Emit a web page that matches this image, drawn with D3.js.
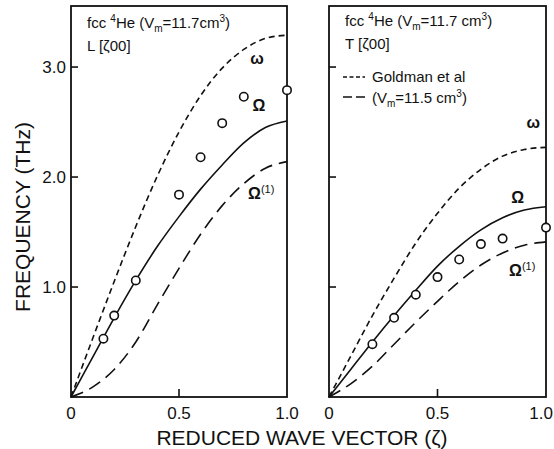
<!DOCTYPE html>
<html>
<head>
<meta charset="utf-8">
<script src="https://cdn.jsdelivr.net/npm/d3@7"></script>
<style>
  body { margin: 0; background: #fff; }
  text { font-family: "Liberation Sans", Arial, sans-serif; fill: #111; }
</style>
</head>
<body>
<div id="chart"></div>
<script>

// reduced wave vector grid for the curves
var zeta = [0, 0.1, 0.2, 0.3, 0.4, 0.5, 0.6, 0.7, 0.8, 0.9, 1.0];

// L [z00] panel
var L_omega  = [0, 0.53, 1.05, 1.55, 2.01, 2.41, 2.74, 2.99, 3.16, 3.26, 3.29];
var L_Omega  = [0, 0.36, 0.72, 1.06, 1.37, 1.64, 1.89, 2.11, 2.31, 2.45, 2.51];
var L_Omega1 = [0, 0.09, 0.25, 0.50, 0.84, 1.17, 1.48, 1.74, 1.94, 2.08, 2.14];
var L_pts_x  = [0.15, 0.2, 0.3, 0.5, 0.6, 0.7, 0.8, 1.0];
var L_pts_y  = [0.53, 0.74, 1.06, 1.84, 2.18, 2.49, 2.73, 2.79];

// T [z00] panel
var T_omega  = [0, 0.37, 0.74, 1.08, 1.40, 1.67, 1.90, 2.07, 2.19, 2.25, 2.27];
var T_Omega  = [0, 0.25, 0.50, 0.74, 0.97, 1.19, 1.37, 1.52, 1.63, 1.70, 1.73];
var T_Omega1 = [0, 0.12, 0.28, 0.48, 0.68, 0.87, 1.05, 1.20, 1.31, 1.38, 1.41];
var T_pts_x  = [0.2, 0.3, 0.4, 0.5, 0.6, 0.7, 0.8, 1.0];
var T_pts_y  = [0.48, 0.72, 0.93, 1.09, 1.25, 1.39, 1.44, 1.54];

var y_ticks = [1, 2, 3];
var y_tick_labels = ["1.0", "2.0", "3.0"];
var x_ticks = [0, 0.5, 1.0];
var x_tick_labels = ["0", "0.5", "1.0"];

var short_dash = "6,4";
var long_dash = "13,7";

var svg = d3.select('#chart').append('svg')
  .attr('width', 554)
  .attr('height', 449);

var y = d3.scaleLinear().domain([0, 3.555]).range([397, 6]);

function draw_panel(left, right, series, pts_x, pts_y, labels, last_anchor){

  var x = d3.scaleLinear().domain([0, 1]).range([left, right]);
  var g = svg.append('g');

  var line = d3.line()
    .x(function(d, i){ return x(zeta[i]); })
    .y(function(d){ return y(d); })
    .curve(d3.curveMonotoneX);

  series.forEach(function(s){
    g.append('path')
      .datum(s.values)
      .attr('d', line)
      .attr('fill', 'none')
      .attr('stroke', '#111')
      .attr('stroke-width', 1.6)
      .attr('stroke-dasharray', s.dash);
  });

  // frame
  g.append('rect')
    .attr('x', x(0)).attr('y', y(3.555))
    .attr('width', x(1) - x(0)).attr('height', y(0) - y(3.555))
    .attr('fill', 'none').attr('stroke', '#111').attr('stroke-width', 1.8);

  // inward ticks
  g.selectAll('.ytick').data(y_ticks).enter().append('line')
    .attr('x1', x(0)).attr('x2', x(0) + 7)
    .attr('y1', function(d){ return y(d); }).attr('y2', function(d){ return y(d); })
    .attr('stroke', '#111').attr('stroke-width', 1.6);
  g.append('line')
    .attr('x1', x(0.5)).attr('x2', x(0.5))
    .attr('y1', y(0)).attr('y2', y(0) - 8)
    .attr('stroke', '#111').attr('stroke-width', 1.6);

  g.selectAll('.xlab').data(x_ticks).enter().append('text')
    .attr('x', function(d, i){ return (i == 2 && last_anchor) ? 553 : x(d); })
    .attr('y', 419)
    .attr('text-anchor', function(d, i){ return (i == 2 && last_anchor) ? 'end' : 'middle'; })
    .attr('font-size', 17)
    .text(function(d, i){ return x_tick_labels[i]; });

  // data circles
  g.selectAll('.pt').data(pts_x).enter().append('circle')
    .attr('cx', function(d){ return x(d); })
    .attr('cy', function(d, i){ return y(pts_y[i]); })
    .attr('r', 4.2)
    .attr('fill', '#fff')
    .attr('stroke', '#111')
    .attr('stroke-width', 1.6);

  // curve labels
  labels.forEach(function(l){
    var t = g.append('text')
      .attr('x', x(l.x)).attr('y', y(l.y))
      .attr('font-size', 16)
      .attr('font-weight', 'bold')
      .text(l.text);
    if(l.sup){
      t.append('tspan').attr('font-size', 11).attr('dy', -6).attr('font-weight', 'normal').text(l.sup);
    }
  });

  return x;
}

var xL = draw_panel(71, 287,
  [{values: L_omega, dash: short_dash}, {values: L_Omega, dash: null}, {values: L_Omega1, dash: long_dash}],
  L_pts_x, L_pts_y,
  [{x: 0.83, y: 3.03, text: 'ω'}, {x: 0.84, y: 2.6, text: 'Ω'}, {x: 0.82, y: 1.8, text: 'Ω', sup: '(1)'}],
  false);

var xT = draw_panel(329, 546,
  [{values: T_omega, dash: short_dash}, {values: T_Omega, dash: null}, {values: T_Omega1, dash: long_dash}],
  T_pts_x, T_pts_y,
  [{x: 0.91, y: 2.45, text: 'ω'}, {x: 0.84, y: 1.76, text: 'Ω'}, {x: 0.83, y: 1.1, text: 'Ω', sup: '(1)'}],
  true);

// y tick labels on left panel
svg.selectAll('.ylab').data(y_ticks).enter().append('text')
  .attr('x', 66)
  .attr('y', function(d){ return y(d) + 6; })
  .attr('text-anchor', 'end')
  .attr('font-size', 17)
  .text(function(d, i){ return y_tick_labels[i]; });

// panel titles
function title(x0, y0, vm_text, line2){
  var t = svg.append('text').attr('x', x0).attr('y', y0).attr('font-size', 15);
  t.append('tspan').text('fcc ');
  t.append('tspan').attr('font-size', 10).attr('dy', -6).text('4');
  t.append('tspan').attr('dy', 6).text('He  (V');
  t.append('tspan').attr('font-size', 10).attr('dy', 4).text('m');
  t.append('tspan').attr('dy', -4).text(vm_text);
  t.append('tspan').attr('font-size', 10).attr('dy', -6).text('3');
  t.append('tspan').attr('dy', 6).text(')');
  svg.append('text').attr('x', x0).attr('y', y0 + 23).attr('font-size', 15).text(line2);
}
title(87, 28, '=11.7cm', 'L [ζ00]');
title(345, 26, '=11.7 cm', 'T [ζ00]');

// legend
svg.append('line').attr('x1', 343).attr('x2', 365).attr('y1', 77).attr('y2', 77)
  .attr('stroke', '#111').attr('stroke-width', 1.6).attr('stroke-dasharray', '4,2.5');
svg.append('line').attr('x1', 343).attr('x2', 365).attr('y1', 97).attr('y2', 97)
  .attr('stroke', '#111').attr('stroke-width', 1.6).attr('stroke-dasharray', '9,4');
svg.append('text').attr('x', 372).attr('y', 82).attr('font-size', 15).text('Goldman et al');
var lg = svg.append('text').attr('x', 372).attr('y', 103).attr('font-size', 15);
lg.append('tspan').text('(V');
lg.append('tspan').attr('font-size', 10).attr('dy', 4).text('m');
lg.append('tspan').attr('dy', -4).text('=11.5 cm');
lg.append('tspan').attr('font-size', 10).attr('dy', -6).text('3');
lg.append('tspan').attr('dy', 6).text(')');

// axis titles
svg.append('text')
  .attr('x', 302).attr('y', 445)
  .attr('text-anchor', 'middle')
  .attr('font-size', 21)
  .text('REDUCED WAVE VECTOR (ζ)');

svg.append('text')
  .attr('transform', 'translate(30,217) rotate(-90)')
  .attr('text-anchor', 'middle')
  .attr('font-size', 21)
  .text('FREQUENCY (THz)');

</script>
</body>
</html>
